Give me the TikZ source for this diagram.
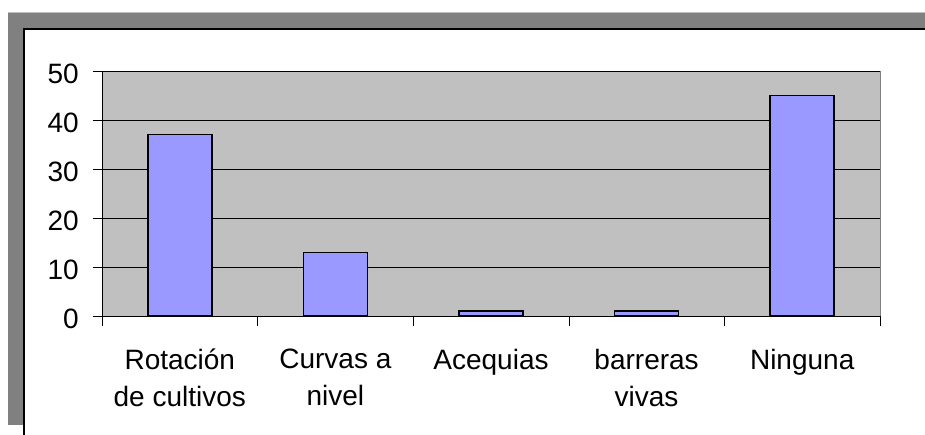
\documentclass[tikz,border=0pt]{standalone}
\usepackage{fontspec}
\setmainfont{Liberation Sans}
\usetikzlibrary{positioning}
\definecolor{plotgray}{RGB}{192,192,192}
\definecolor{framegray}{RGB}{128,128,128}
\definecolor{barblue}{RGB}{153,153,255}
\tikzset{
  axislabel/.style = {inner sep=0pt, font=\fontsize{28}{37}\selectfont},
  catlabel/.style = {axislabel, align=center, anchor=north},
  bar/.style = {draw=black, line width=1.5pt, fill=barblue}}

\begin{document}
\begin{tikzpicture}[x=1pt,y=1pt]
 \useasboundingbox (0,0) rectangle (925,435);
 % frame
 \fill[framegray] (8,406) rectangle (925,423);
 \fill[framegray] (8,10) rectangle (24,423);
 \draw[gray!50] (8,423) -- (925,423);
 \draw[line width=1.5pt] (24,0) -- (24,406) -- (925,406);
 % plot area
 \fill[plotgray] (102,119) rectangle (880,364);
 \draw[gray] (102,364) -- (880,364) -- (880,119);
 \foreach \v in {0,10,...,50}{
   \coordinate (t\v) at (93,119+4.9*\v);
   \draw (t\v) -- (880,119+4.9*\v);
   \node[axislabel, left=14pt of t\v, yshift=-2.5pt] (y\v) {\v};
 }
 \draw (102,119) -- (102,364);
 \foreach \i in {0,...,5}
   \draw (102+155.6*\i,119) -- (102+155.6*\i,109);
 % bars
 \foreach \v [count=\i] in {37,13,1,1,45}
   \draw[bar] (102+155.6*\i-77.8-32,119) rectangle (102+155.6*\i-77.8+32,119+4.9*\v);
 % categories
 \foreach \txt [count=\i] in {{Rotación\\de cultivos},{Curvas a\\nivel},{Acequias},{barreras\\vivas},{Ninguna}}{
   \coordinate (c\i) at (102+155.6*\i-77.8,119);
   \node[catlabel, below=33pt of c\i] (cat\i) {\txt};
 }
\end{tikzpicture}
\end{document}
